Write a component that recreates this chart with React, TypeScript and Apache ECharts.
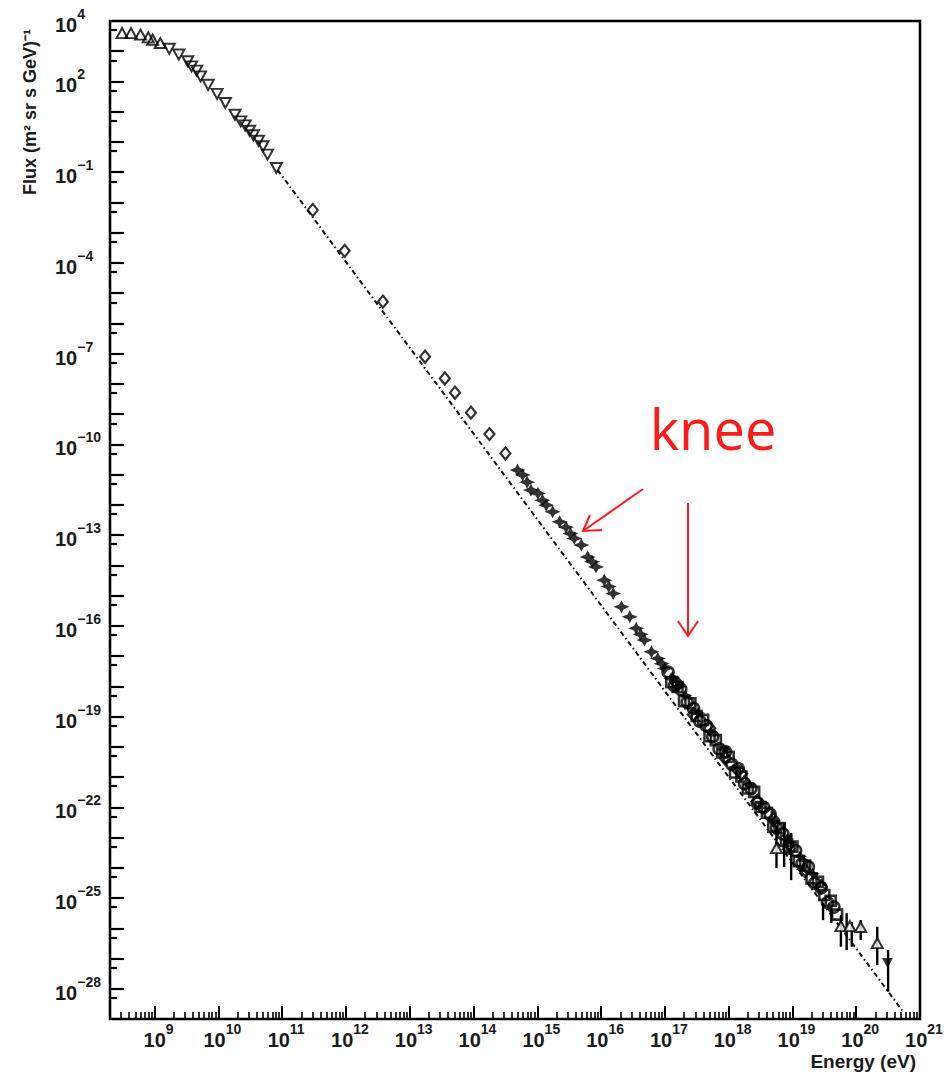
import React, { useEffect, useRef } from "react";
import * as echarts from "echarts";

// Axis extents, in decades (log10 of Energy in eV / log10 of Flux)
const X_MIN = 8.30103; // 2 x 10^8 eV
const X_MAX = 21;
const Y_MIN = -29;
const Y_MAX = 4;

const xLabelExps = [9, 10, 11, 12, 13, 14, 15, 16, 17, 18, 19, 20, 21];
const yLabelExps = [4, 2, -1, -4, -7, -10, -13, -16, -19, -22, -25, -28];

// Data points: [log10(E / eV), log10(Flux / (m^2 sr s GeV)^-1)]
const lowUpTriangles = [
  [8.49, 3.6], [8.63, 3.6], [8.78, 3.55], [8.9, 3.46], [8.97, 3.38], [9.09, 3.27],
];
const lowDownTriangles = [
  [9.23, 3.08], [9.38, 2.89], [9.52, 2.67], [9.58, 2.5], [9.66, 2.36], [9.72, 2.17],
  [9.84, 1.89], [9.98, 1.59], [10.11, 1.29], [10.26, 0.9], [10.35, 0.68], [10.42, 0.55],
  [10.49, 0.37], [10.55, 0.22], [10.63, 0.04], [10.7, -0.14], [10.77, -0.42], [10.91, -0.86],
];
const openDiamonds = [
  [11.48, -2.25], [11.98, -3.6], [12.58, -5.28], [13.24, -7.1], [13.55, -7.82],
  [13.71, -8.29], [13.96, -8.95], [14.25, -9.66], [14.5, -10.3],
];
const kneeStars = [
  [14.69, -10.85], [14.77, -11.01], [14.84, -11.25], [14.9, -11.51], [15.01, -11.62],
  [15.08, -11.85], [15.14, -12.01], [15.24, -12.23], [15.35, -12.56], [15.45, -12.74],
  [15.52, -12.95], [15.58, -13.11], [15.69, -13.33], [15.79, -13.72], [15.86, -13.88],
  [15.92, -14.05], [16.05, -14.49], [16.12, -14.7], [16.19, -14.93], [16.32, -15.37],
  [16.45, -15.7], [16.55, -16.08], [16.62, -16.28], [16.68, -16.47], [16.79, -16.86],
  [16.89, -17.08], [16.95, -17.25], [17.0, -17.41], [17.1, -17.74], [17.21, -18.01],
];
const highCircles = [
  [17.05, -17.53], [17.15, -17.98], [17.25, -18.1], [17.35, -18.52], [17.45, -18.73],
  [17.55, -19.16], [17.65, -19.3], [17.75, -19.67], [17.85, -20.07], [17.95, -20.16],
  [18.05, -20.58], [18.15, -20.72], [18.25, -21.22], [18.35, -21.38], [18.45, -21.86],
  [18.55, -22.0], [18.65, -22.23], [18.75, -22.68], [18.85, -22.88], [18.95, -23.35],
  [19.05, -23.43], [19.15, -23.87], [19.25, -23.97], [19.35, -24.51], [19.45, -24.66],
  [19.55, -25.15], [19.65, -25.3],
];
const highSquares = [
  [17.1, -17.86], [17.2, -18.02], [17.3, -18.49], [17.4, -18.56], [17.5, -18.98],
  [17.6, -19.11], [17.7, -19.65], [17.8, -19.78], [17.9, -20.19], [18.0, -20.33],
  [18.1, -20.85], [18.2, -20.98], [18.3, -21.38], [18.4, -21.49], [18.5, -21.99],
  [18.6, -22.18], [18.7, -22.64], [18.8, -22.69], [18.9, -23.11], [19.0, -23.3],
  [19.1, -23.78], [19.2, -23.93], [19.3, -24.35], [19.4, -24.46], [19.5, -24.9],
  [19.6, -25.09], [19.7, -25.55],
];
const highDiamonds = [
  [17.2, -17.92], [17.45, -18.93], [17.7, -19.39], [17.95, -20.38], [18.2, -20.88],
  [18.45, -21.81], [18.7, -22.4], [18.95, -23.21], [19.2, -24.09], [19.45, -24.63],
];
const highFilled = [
  [17.12, -17.7], [17.32, -18.3], [17.52, -18.88], [17.72, -19.5], [17.92, -20.08],
  [18.12, -20.66], [18.32, -21.25], [18.52, -21.85], [18.72, -22.45], [18.92, -23.05],
  [19.12, -23.62], [19.32, -24.2],
];
const uheOpenTriangles = [
  [18.75, -23.35], [19.76, -25.93], [19.9, -25.93], [20.07, -25.96], [20.33, -26.49],
];
const uheFilledDown = [[20.49, -27.15]];
// [log10 E, log10 flux upper, log10 flux lower]
const errorBars = [
  [18.75, -22.59, -24.01], [18.87, -22.52, -23.97], [18.98, -22.85, -24.41],
  [19.48, -25.17, -25.73], [19.61, -25.3, -25.83], [19.76, -25.56, -26.61],
  [19.85, -25.5, -26.72], [19.93, -25.79, -26.61], [20.07, -25.73, -26.39],
  [20.33, -25.95, -27.22], [20.5, -26.72, -28.1],
];
// reference power law (dash-dot line), endpoints
const powerLaw = [[10.93, -0.93], [20.75, -28.8]];

const FONT = "'Liberation Sans', Arial, Helvetica, sans-serif";

const xMajor: number[] = [];
const xMinor: number[] = [];
for (let n = 8; n <= 21; n++) {
  if (n >= 9) xMajor.push(n);
  for (let k = 2; k <= 9; k++) {
    const v = n + Math.log10(k);
    if (v > X_MIN + 0.01 && v < X_MAX) xMinor.push(v);
  }
}
const yMajor: number[] = [];
const yMinor: number[] = [];
for (let n = Y_MIN; n <= Y_MAX; n++) {
  if (n > Y_MIN && n < Y_MAX) yMajor.push(n);
  const v = n + Math.log10(5);
  if (v < Y_MAX) yMinor.push(v);
}

const powLabel = (v: number) => {
  const e = Math.round(v);
  const s = e < 0 ? "\u2212" + Math.abs(e) : String(e);
  return `{b|10}{s|${s}}`;
};
const labelRich = {
  b: { fontSize: 20, fontFamily: FONT, fontWeight: "bold", color: "#1a1a1a", lineHeight: 28, verticalAlign: "bottom" },
  s: { fontSize: 14, fontFamily: FONT, fontWeight: "bold", color: "#1a1a1a", lineHeight: 14, verticalAlign: "top" },
};

const openStyle = { color: "rgba(255,255,255,0)", borderColor: "#000", borderWidth: 2 };
const bandStyle = { color: "rgba(255,255,255,0)", borderColor: "#000", borderWidth: 2.6 };
const STAR = "path://M0,-5 L2,-1.8 L7,0 L2,1.8 L0,5 L-2,1.8 L-7,0 L-2,-1.8 Z";

export default function App() {
  const ref = useRef<HTMLDivElement>(null);
  useEffect(() => {
    if (!ref.current) return;
    const chart = echarts.init(ref.current, null, { renderer: "svg" });
    const baseAxis = {
      type: "value",
      splitLine: { show: false },
      axisLine: { show: false, onZero: false },
    };
    chart.setOption({
      animation: false,
      backgroundColor: "#fff",
      grid: {
        left: 110, top: 21, width: 810, height: 998,
        show: true, borderColor: "#000", borderWidth: 2.6, backgroundColor: "transparent",
      },
      xAxis: [
        {
          ...baseAxis, position: "bottom", min: X_MIN, max: X_MAX,
          axisTick: { inside: true, length: 13, lineStyle: { color: "#000", width: 2 }, customValues: xMajor },
          axisLabel: { customValues: xLabelExps, formatter: powLabel, rich: labelRich, margin: 3, padding: [0, 0, 0, 8] },
        },
        {
          ...baseAxis, position: "bottom", min: X_MIN, max: X_MAX,
          axisTick: { inside: true, length: 7, lineStyle: { color: "#000", width: 1.6 }, customValues: xMinor },
          axisLabel: { show: false },
        },
      ],
      yAxis: [
        {
          ...baseAxis, position: "left", min: Y_MIN, max: Y_MAX,
          axisTick: { inside: true, length: 14, lineStyle: { color: "#000", width: 2.2 }, customValues: yMajor },
          axisLabel: { customValues: yLabelExps, formatter: powLabel, rich: labelRich, margin: 55, align: "left" },
        },
        {
          ...baseAxis, position: "left", min: Y_MIN, max: Y_MAX,
          axisTick: { inside: true, length: 7, lineStyle: { color: "#000", width: 2.2 }, customValues: yMinor },
          axisLabel: { show: false },
        },
      ],
      series: [
        {
          type: "line", data: powerLaw, symbol: "none", z: 1,
          lineStyle: { color: "#111", width: 2, type: [5, 3, 1.5, 3] },
        },
        { type: "scatter", data: lowUpTriangles, symbol: "triangle", symbolSize: [11, 10], itemStyle: openStyle },
        { type: "scatter", data: lowDownTriangles, symbol: "triangle", symbolRotate: 180, symbolSize: [11, 10], itemStyle: openStyle },
        { type: "scatter", data: openDiamonds, symbol: "diamond", symbolSize: [10, 12], itemStyle: { ...openStyle, borderWidth: 2.2 } },
        { type: "scatter", data: kneeStars, symbol: STAR, symbolSize: [16, 13], itemStyle: { color: "#000" } },
        { type: "scatter", data: highCircles, symbol: "circle", symbolSize: 11, itemStyle: bandStyle },
        { type: "scatter", data: highSquares, symbol: "rect", symbolSize: 10, itemStyle: bandStyle },
        { type: "scatter", data: highDiamonds, symbol: "diamond", symbolSize: [11, 13], itemStyle: bandStyle },
        { type: "scatter", data: highFilled, symbol: STAR, symbolSize: [14, 12], itemStyle: { color: "#000" } },
        {
          type: "custom", data: errorBars, encode: { x: 0, y: [1, 2] }, z: 3,
          renderItem: (_p: any, api: any) => {
            const a = api.coord([api.value(0), api.value(1)]);
            const b = api.coord([api.value(0), api.value(2)]);
            return {
              type: "line",
              shape: { x1: a[0], y1: a[1], x2: b[0], y2: b[1] },
              style: { stroke: "#000", lineWidth: 2.4 },
            };
          },
        },
        { type: "scatter", data: uheOpenTriangles, symbol: "triangle", symbolSize: [11, 10], itemStyle: { ...openStyle, color: "#fff" }, z: 4 },
        { type: "scatter", data: uheFilledDown, symbol: "triangle", symbolRotate: 180, symbolSize: [11, 10], itemStyle: { color: "#000" }, z: 4 },
      ],
      graphic: [
        {
          type: "text", x: 30, y: 112, rotation: Math.PI / 2,
          style: {
            text: "Flux (m\u00b2 sr s GeV)\u207b\u00b9", font: `bold 18px ${FONT}`, fill: "#1a1a1a",
            align: "center", verticalAlign: "middle",
          },
        },
        {
          type: "text", x: 916, y: 1061,
          style: { text: "Energy (eV)", font: `bold 19px ${FONT}`, fill: "#1a1a1a", align: "right", verticalAlign: "middle" },
        },
        {
          type: "text", x: 713, y: 428,
          style: { text: "knee", font: `56px 'Open Sans', sans-serif`, fill: "#ff1a1a", align: "center", verticalAlign: "middle" },
        },
        { type: "line", shape: { x1: 643, y1: 489, x2: 583, y2: 531 }, style: { stroke: "#ff1a1a", lineWidth: 2 } },
        { type: "polyline", shape: { points: [[590, 515], [583, 531], [602, 530]] }, style: { stroke: "#ff1a1a", lineWidth: 2, fill: "none" } },
        { type: "line", shape: { x1: 688, y1: 503, x2: 688, y2: 636 }, style: { stroke: "#ff1a1a", lineWidth: 2 } },
        { type: "polyline", shape: { points: [[678, 621], [688, 636], [698, 621]] }, style: { stroke: "#ff1a1a", lineWidth: 2, fill: "none" } },
      ],
    });
    return () => chart.dispose();
  }, []);
  return (
    <div
      ref={ref}
      style={{ position: "absolute", left: 0, top: 0, width: 947, height: 1077 }}
    />
  );
}
